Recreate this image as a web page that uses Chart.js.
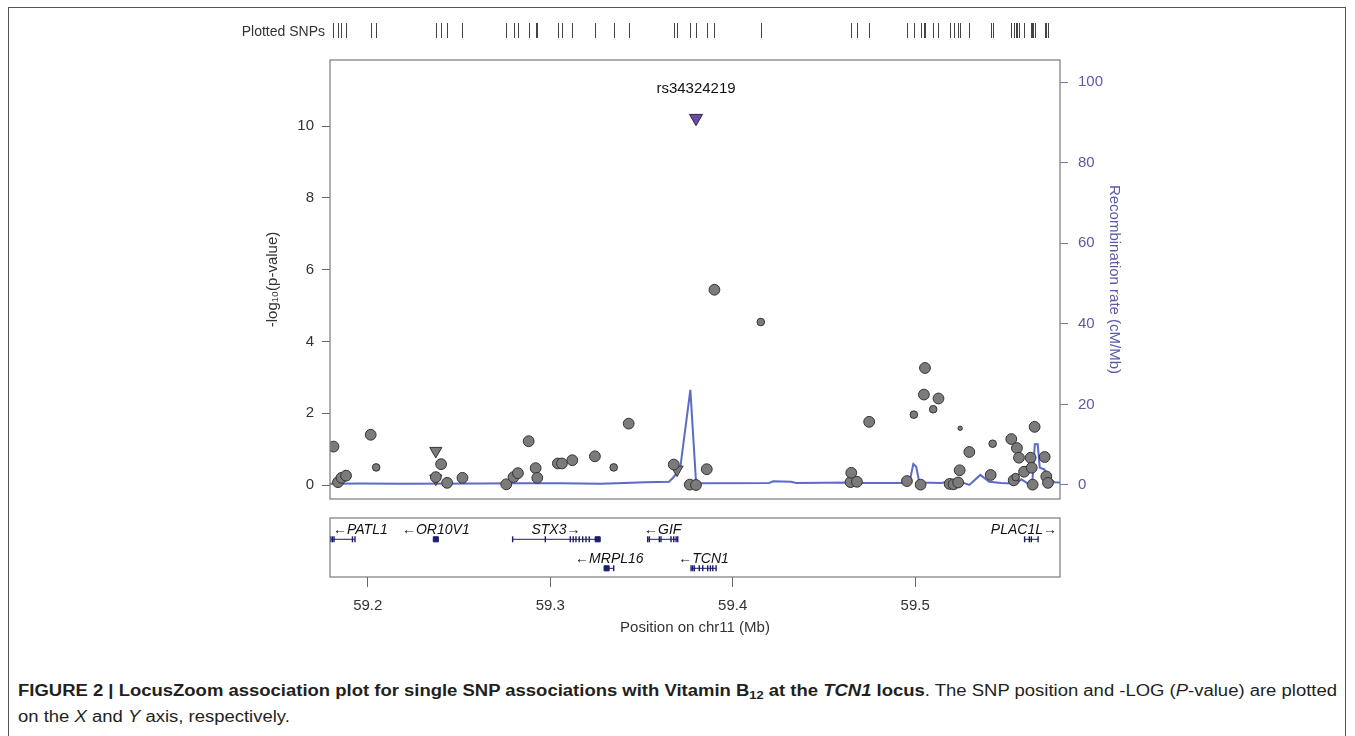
<!DOCTYPE html>
<html>
<head>
<meta charset="utf-8">
<script src="https://cdn.jsdelivr.net/npm/chart.js@4.4.1/dist/chart.umd.min.js"></script>
<style>
  html, body { margin: 0; padding: 0; background: #fff; }
  body { width: 1355px; height: 736px; overflow: hidden; position: relative; font-family: "Liberation Sans", Arial, sans-serif; }
  #frame { position: absolute; left: 8px; top: 7px; width: 1338px; height: 800px; border: 1.5px solid #555; box-sizing: border-box; }
  #main { position: absolute; left: 0; top: 0; }
  #genes { position: absolute; left: 0; top: 510px; }
  #cap { position: absolute; left: 18px; top: 678px; transform-origin: 0 0; white-space: nowrap; color: #231f20;
         font-family: "Liberation Sans Narrow", "Liberation Sans", Arial, sans-serif; font-size: 16px; }
  #cap .ln { line-height: 26px; display: block; }
  #cap .ln span { display: inline-block; }
  #cap sub { font-size: 70%; vertical-align: -3px; line-height: 0; }
</style>
</head>
<body>
<div id="frame"></div>
<canvas id="main" width="1355" height="518"></canvas>
<canvas id="genes" width="1355" height="135"></canvas>
<div id="cap">
  <div class="ln"><span id="ln1"><b>FIGURE 2 | LocusZoom association plot for single SNP associations with Vitamin B<sub>12</sub> at the <i>TCN1</i> locus</b>. The SNP position and -LOG (<i>P</i>-value) are plotted</span></div>
  <div class="ln"><span>on the <i>X</i> and <i>Y</i> axis, respectively.</span></div>
</div>
<script>
// x range (Mb on chr11)
const xMin = 59.1793, xMax = 59.5794;
const xTicks = [59.2, 59.3, 59.4, 59.5];
const leftTicks = [0, 2, 4, 6, 8, 10];
const rightTicks = [0, 20, 40, 60, 80, 100];

// lead SNP
const leadName = 'rs34324219';
const leadPos = [59.3799];
const leadLogP = [10.22];

// other SNPs, grouped by marker
const bigPos = [59.1812, 59.1837, 59.1856, 59.1881, 59.2016, 59.2402, 59.2373, 59.2435, 59.2519, 59.2759,
  59.2799, 59.2823, 59.2882, 59.2920, 59.2929, 59.3042, 59.3064, 59.3121, 59.3245, 59.3430,
  59.3677, 59.3765, 59.3799, 59.3858, 59.3900, 59.4646, 59.4650, 59.4681, 59.4748, 59.4955,
  59.5030, 59.5048, 59.5054, 59.5128, 59.5189, 59.5211, 59.5236, 59.5244, 59.5297, 59.5414,
  59.5527, 59.5540, 59.5558, 59.5569, 59.5597, 59.5633, 59.5639, 59.5644, 59.5655, 59.5710,
  59.5719, 59.5728];
const bigLogP = [1.07, 0.08, 0.20, 0.26, 1.40, 0.58, 0.22, 0.06, 0.20, 0.02,
  0.22, 0.33, 1.22, 0.47, 0.20, 0.60, 0.60, 0.69, 0.80, 1.71,
  0.57, 0.01, 0.00, 0.44, 5.44, 0.08, 0.34, 0.09, 1.76, 0.11,
  0.01, 2.52, 3.26, 2.41, 0.03, 0.02, 0.07, 0.41, 0.92, 0.28,
  1.28, 0.13, 1.03, 0.76, 0.37, 0.76, 0.48, 0.01, 1.62, 0.78,
  0.24, 0.06];
const smallPos = [59.2046, 59.3348, 59.4154, 59.4993, 59.5099, 59.5425, 59.5551];
const smallLogP = [0.49, 0.49, 4.54, 1.96, 2.11, 1.15, 0.22];
const tinyPos = [59.5247];
const tinyLogP = [1.58];
const triPos = [59.2373, 59.2373, 59.3695];
const triLogP = [0.95, 0.18, 0.43];

// recombination rate (cM/Mb)
const recombPos = [59.1793, 59.1962, 59.2181, 59.2620, 59.2839, 59.3059, 59.3278, 59.3525, 59.3651, 59.3673,
  59.3712, 59.3768, 59.3799, 59.3827, 59.4200, 59.4222, 59.4320, 59.4348, 59.4650, 59.4704,
  59.4951, 59.4973, 59.4990, 59.5006, 59.5023, 59.5143, 59.5198, 59.5253, 59.5297, 59.5357,
  59.5406, 59.5472, 59.5555, 59.5582, 59.5620, 59.5642, 59.5656, 59.5672, 59.5683, 59.5708,
  59.5730, 59.5763, 59.5794];
const recombRate = [0.3, 0.35, 0.3, 0.35, 0.4, 0.45, 0.3, 0.7, 0.8, 1.8,
  4.0, 23.6, 0.8, 0.4, 0.5, 0.9, 0.8, 0.5, 0.6, 0.5,
  0.5, 1.5, 5.2, 4.5, 0.6, 0.5, 1.0, 0.7, 0.0, 2.5,
  0.8, 0.5, 0.3, 1.4, 0.3, 0.4, 10.1, 10.1, 4.3, 3.9,
  1.8, 0.7, 0.6];

// genes
const geneNames = ['PATL1', 'OR10V1', 'STX3', 'GIF', 'MRPL16', 'TCN1', 'PLAC1L'];
const geneStart = [59.1797, 59.2368, 59.2794, 59.3534, 59.3300, 59.3772, 59.5600];
const geneEnd = [59.1930, 59.2378, 59.3269, 59.3699, 59.3348, 59.3909, 59.5674];
const geneRow = [0, 0, 0, 0, 1, 1, 0];
const geneStrand = ['-', '-', '+', '-', '-', '-', '+'];
const geneExons = [
  [59.1797, 59.1806, 59.1815, 59.1916, 59.1930],
  [],
  [59.2794, 59.2973, 59.3110, 59.3126, 59.3141, 59.3159, 59.3178, 59.3196, 59.3214],
  [59.3534, 59.3543, 59.3598, 59.3607, 59.3662, 59.3677, 59.3690, 59.3699],
  [59.3348],
  [59.3772, 59.3781, 59.3790, 59.3817, 59.3836, 59.3863, 59.3878, 59.3891, 59.3909],
  [59.5600, 59.5626, 59.5637, 59.5674]
];
const geneBlocks = [[], [59.2373], [59.3260], [], [59.3309], [], []];

const FONT = '"Liberation Sans", Arial, sans-serif';
const toPts = (xs, ys) => xs.map((v, i) => ({ x: v, y: ys[i] }));
const allSnpPos = [].concat(bigPos, smallPos, tinyPos, triPos, leadPos);

const mainDecor = {
  id: 'mainDecor',
  afterDraw(chart) {
    const { ctx, chartArea: a, scales: { x, y } } = chart;
    ctx.save();
    ctx.strokeStyle = '#7a7a7a';
    ctx.lineWidth = 1.2;
    ctx.strokeRect(a.left, a.top, a.right - a.left, a.bottom - a.top);
    // plotted SNPs rug
    ctx.strokeStyle = '#444';
    ctx.lineWidth = 1;
    allSnpPos.forEach(p => {
      const px = Math.round(x.getPixelForValue(p)) + 0.5;
      ctx.beginPath();
      ctx.moveTo(px, a.top - 37);
      ctx.lineTo(px, a.top - 22);
      ctx.stroke();
    });
    ctx.fillStyle = '#333';
    ctx.font = '14px ' + FONT;
    ctx.textAlign = 'right';
    ctx.textBaseline = 'middle';
    ctx.fillText('Plotted SNPs', a.left - 5, a.top - 28);
    // lead SNP label
    ctx.fillStyle = '#111';
    ctx.font = '15px ' + FONT;
    ctx.textAlign = 'center';
    ctx.fillText(leadName, x.getPixelForValue(leadPos[0]), y.getPixelForValue(leadLogP[0]) - 29);
    ctx.restore();
  }
};

new Chart(document.getElementById('main'), {
  type: 'scatter',
  data: {
    datasets: [
      { data: toPts(leadPos, leadLogP), pointStyle: 'triangle', rotation: 180, pointRadius: 7.5,
        backgroundColor: '#6d4ba3', borderColor: '#2e2350', borderWidth: 1 },
      { data: toPts(tinyPos, tinyLogP), pointRadius: 2.2, backgroundColor: '#7b7b7b', borderColor: '#333', borderWidth: 1 },
      { data: toPts(smallPos, smallLogP), pointRadius: 3.8, backgroundColor: '#7b7b7b', borderColor: '#333', borderWidth: 1 },
      { data: toPts(bigPos, bigLogP), pointRadius: 5.4, backgroundColor: '#7b7b7b', borderColor: '#333', borderWidth: 1 },
      { data: toPts(triPos, triLogP), pointStyle: 'triangle', rotation: 180, pointRadius: 7,
        backgroundColor: '#7b7b7b', borderColor: '#333', borderWidth: 1 },
      { type: 'line', data: toPts(recombPos, recombRate), yAxisID: 'y2', borderColor: '#5b6bc6',
        borderWidth: 2, pointRadius: 0, tension: 0, fill: false }
    ]
  },
  options: {
    responsive: false,
    animation: false,
    layout: { padding: { left: 260, right: 228, top: 60, bottom: 4 } },
    plugins: { legend: { display: false }, tooltip: { enabled: false } },
    scales: {
      x: { type: 'linear', min: xMin, max: xMax, display: false },
      y: {
        position: 'left', min: -0.39, max: 11.84,
        afterBuildTicks: s => { s.ticks = leftTicks.map(v => ({ value: v })); },
        afterFit: s => { s.width = 70; },
        grid: { drawOnChartArea: false, tickLength: 8, color: '#666' },
        border: { display: false },
        ticks: { color: '#333', padding: 8, font: { family: FONT, size: 15 } },
        title: { display: true, text: '-log\u2081\u2080(p-value)', color: '#333', font: { family: FONT, size: 15 } }
      },
      y2: {
        position: 'right', min: -3.48, max: 105.5,
        afterBuildTicks: s => { s.ticks = rightTicks.map(v => ({ value: v })); },
        afterFit: s => { s.width = 67; },
        grid: { drawOnChartArea: false, tickLength: 8, color: '#7777aa' },
        border: { display: false },
        ticks: { color: '#5a5aa6', padding: 10, font: { family: FONT, size: 15 } },
        title: { display: true, text: 'Recombination rate (cM/Mb)', color: '#5a5aa6', font: { family: FONT, size: 15 } }
      }
    }
  },
  plugins: [mainDecor]
});

// gene track
const geneDecor = {
  id: 'geneDecor',
  afterDraw(chart) {
    const { ctx, chartArea: a, scales: { x, y } } = chart;
    ctx.save();
    ctx.strokeStyle = '#7a7a7a';
    ctx.lineWidth = 1.2;
    ctx.strokeRect(a.left, a.top, a.right - a.left, a.bottom - a.top);
    ctx.fillStyle = '#111';
    ctx.font = 'italic 14px ' + FONT;
    ctx.textAlign = 'left';
    ctx.textBaseline = 'middle';
    geneNames.forEach((g, i) => {
      const label = geneStrand[i] === '-' ? '\u2190' + g : g + '\u2192';
      const w = ctx.measureText(label).width;
      const mid = (x.getPixelForValue(geneStart[i]) + x.getPixelForValue(geneEnd[i])) / 2;
      let left = mid - w / 2;
      left = Math.max(a.left + 3, Math.min(a.right - 3 - w, left));
      ctx.fillText(label, left, y.getPixelForValue(geneRow[i]) - 9.5);
    });
    ctx.restore();
  }
};

const geneSets = geneNames.map((g, i) => ({
  type: 'line',
  data: [{ x: geneStart[i], y: geneRow[i] }, { x: geneEnd[i], y: geneRow[i] }],
  borderColor: '#1c1c70', borderWidth: 1, pointRadius: 0
}));
const exonPts = [], blockPts = [];
geneExons.forEach((ex, i) => ex.forEach(e => exonPts.push({ x: e, y: geneRow[i] })));
geneBlocks.forEach((bl, i) => bl.forEach(e => blockPts.push({ x: e, y: geneRow[i] })));

new Chart(document.getElementById('genes'), {
  type: 'scatter',
  data: {
    datasets: [
      { data: exonPts, pointStyle: 'line', rotation: 90, pointRadius: 3, borderColor: '#1c1c70', borderWidth: 1.4 },
      { data: blockPts, pointStyle: 'rect', pointRadius: 3.6, backgroundColor: '#1c1c70', borderColor: '#1c1c70', borderWidth: 1 }
    ].concat(geneSets)
  },
  options: {
    responsive: false,
    animation: false,
    layout: { padding: { left: 330, right: 295, top: 8, bottom: 0 } },
    plugins: { legend: { display: false }, tooltip: { enabled: false } },
    scales: {
      x: {
        type: 'linear', min: xMin, max: xMax,
        afterBuildTicks: s => { s.ticks = xTicks.map(v => ({ value: v })); },
        afterFit: s => { s.height = 68; },
        grid: { drawOnChartArea: false, tickLength: 10, color: '#666' },
        border: { display: false },
        ticks: { color: '#333', padding: 10, font: { family: FONT, size: 15 }, callback: v => v.toFixed(1) },
        title: { display: true, text: 'Position on chr11 (Mb)', color: '#333', padding: { top: 0, bottom: 8 },
                 font: { family: FONT, size: 15 } }
      },
      y: { display: false, reverse: true, min: -0.734, max: 1.299 }
    }
  },
  plugins: [geneDecor]
});

// fit caption width to the figure
const ln1 = document.getElementById('ln1');
const capScale = 1319 / ln1.getBoundingClientRect().width;
document.getElementById('cap').style.transform = 'scaleX(' + capScale + ')';
</script>
</body>
</html>
